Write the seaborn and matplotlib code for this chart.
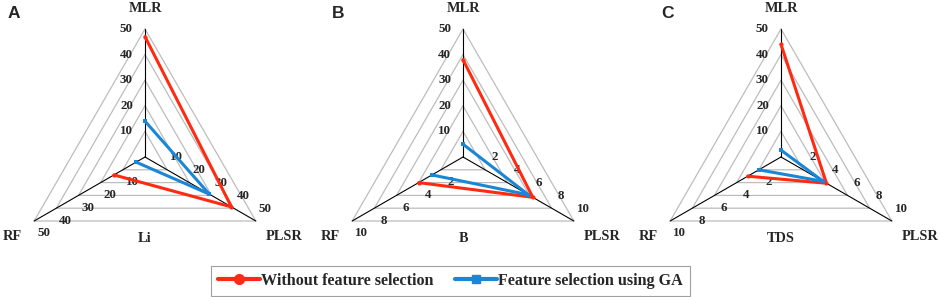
import numpy as np
import matplotlib
matplotlib.use('Agg')
import matplotlib.pyplot as plt
from matplotlib.lines import Line2D
import seaborn as sns

sns.set_style('white')
plt.rcParams['font.family'] = ['Liberation Serif', 'DejaVu Serif']

# Data: errors per model (axes MLR, PLSR, RF) for each target
axis_names = ['MLR', 'PLSR', 'RF']
targets = ['Li', 'B', 'TDS']
panel_letters = ['A', 'B', 'C']
axis_max = [[50, 50, 50], [50, 10, 10], [50, 10, 10]]

without_fs_li = [47, 39, 14]
without_fs_b = [38, 6.3, 4.0]
without_fs_tds = [44, 4.1, 3.0]
ga_fs_li = [14, 29, 4]
ga_fs_b = [5, 5.9, 2.8]
ga_fs_tds = [2.7, 3.8, 2.0]

without_fs = [without_fs_li, without_fs_b, without_fs_tds]
ga_fs = [ga_fs_li, ga_fs_b, ga_fs_tds]

red = '#FF2A12'
blue = '#1A87D6'
angles = np.deg2rad([90, -30, 210])

W, H = 941, 297
R = 128.0          # radius in pixels
cy = 157           # centre from top, pixels
centres = [145, 463, 781]
letter_x = [8, 332, 661]
half_w = 145
tick_fs = 9.4
name_fs = 10.3

fig = plt.figure(figsize=(W / 100, H / 100), dpi=100)

for p in range(3):
    cx = centres[p]
    ax = fig.add_axes([(cx - half_w) / W, 0, 2 * half_w / W, 1])
    ax.set_xlim(-half_w / R, half_w / R)
    ax.set_ylim(-(H - cy) / R, cy / R)
    ax.axis('off')

    # grid triangles
    for lvl in np.arange(1, 6) / 5:
        gx = list(lvl * np.cos(angles)) + [lvl * np.cos(angles[0])]
        gy = list(lvl * np.sin(angles)) + [lvl * np.sin(angles[0])]
        ax.plot(gx, gy, color='#BDBDBD', lw=0.9, zorder=1)
    # spokes
    for a in angles:
        ax.plot([0, np.cos(a)], [0, np.sin(a)], color='black', lw=0.8, zorder=2)

    # tick labels
    mx = axis_max[p]
    for k in range(1, 6):
        lvl = k / 5
        ax.text(-18.5 / R, lvl, f'{mx[0] * k // 5:g}', ha='center', va='center',
                fontsize=tick_fs, fontweight='bold')
        ax.text(lvl * np.cos(angles[1]) + 9.5 / R, lvl * np.sin(angles[1]) + 12.5 / R,
                f'{mx[1] * k // 5:g}', ha='center', va='center', fontsize=tick_fs, fontweight='bold')
        ax.text(lvl * np.cos(angles[2]) + 9.5 / R, lvl * np.sin(angles[2]) - 12.5 / R,
                f'{mx[2] * k // 5:g}', ha='center', va='center', fontsize=tick_fs, fontweight='bold')

    # axis names
    ax.text(0, 1 + 21 / R, axis_names[0], ha='center', va='center', fontsize=name_fs, fontweight='bold')
    ax.text(np.cos(angles[1]) + 28 / R, np.sin(angles[1]) - 15 / R, axis_names[1],
            ha='center', va='center', fontsize=name_fs, fontweight='bold')
    ax.text(np.cos(angles[2]) - 22 / R, np.sin(angles[2]) - 15 / R, axis_names[2],
            ha='center', va='center', fontsize=name_fs, fontweight='bold')
    ax.text(0, -(238 - cy) / R, targets[p], ha='center', va='center', fontsize=name_fs, fontweight='bold')

    # data polygons
    for vals, col, mk in [(without_fs[p], red, 'o'), (ga_fs[p], blue, 's')]:
        r = np.array(vals, dtype=float) / np.array(mx)
        px = list(r * np.cos(angles)) + [r[0] * np.cos(angles[0])]
        py = list(r * np.sin(angles)) + [r[0] * np.sin(angles[0])]
        sns.lineplot(x=px, y=py, sort=False, ax=ax, color=col, lw=2.2, marker=mk,
                     markersize=3, markeredgewidth=0, zorder=3, legend=False)

    fig.text(letter_x[p] / W, 1 - 14 / H, panel_letters[p], ha='left', va='center',
             fontsize=12.5, fontweight='bold', family='Liberation Sans')

leg_handles = [Line2D([], [], color=red, lw=3, marker='o', markersize=7),
               Line2D([], [], color=blue, lw=3, marker='s', markersize=6)]
leg = fig.legend(leg_handles, ['Without feature selection', 'Feature selection using GA'],
                 loc='lower center', bbox_to_anchor=(450.5 / W, 0.003), ncol=2,
                 prop={'weight': 'bold', 'size': 11.6}, frameon=True, fancybox=False,
                 edgecolor='#888888', handlelength=2.6, handletextpad=0.1,
                 columnspacing=1.3, borderpad=0.45, borderaxespad=0)
leg.get_frame().set_linewidth(0.8)

fig.savefig('out.png', dpi=100)
